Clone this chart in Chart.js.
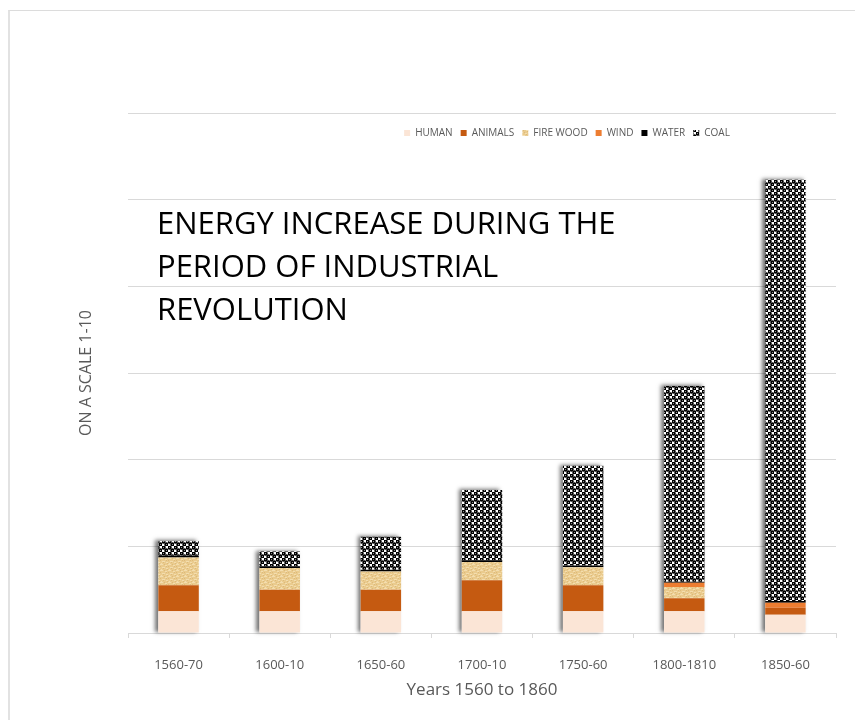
<!DOCTYPE html>
<html>
<head>
<meta charset="utf-8">
<script src="https://cdn.jsdelivr.net/npm/chart.js@4.4.1/dist/chart.umd.min.js"></script>
<style>
  body { margin: 0; background: #fff; }
  #moldura { position: absolute; left: 8px; top: 10px; width: 900px; height: 800px;
             border-top: 1px solid #dcdcdc; border-left: 2px solid #e2e2e2; }
  #grafico { position: absolute; left: 0; top: 0; }
</style>
</head>
<body>
<div id="moldura"></div>
<canvas id="grafico" width="855" height="720"></canvas>
<script>
/* ================= DADOS ================= */
const periodos = ['1560-70', '1600-10', '1650-60', '1700-10', '1750-60', '1800-1810', '1850-60'];
const human    = [0.25, 0.25, 0.25, 0.25, 0.25, 0.25, 0.21];
const animals  = [0.30, 0.25, 0.25, 0.36, 0.30, 0.15, 0.08];
const firewood = [0.32, 0.25, 0.21, 0.21, 0.21, 0.13, 0];
const wind     = [0, 0, 0, 0, 0, 0.05, 0.06];
const water    = [0.02, 0.02, 0.02, 0.02, 0.02, 0.01, 0.02];
const coal     = [0.17, 0.17, 0.38, 0.81, 1.15, 2.26, 4.86];
const escalaMax = 6;

const tituloLinhas = ['ENERGY INCREASE DURING THE', 'PERIOD OF INDUSTRIAL', 'REVOLUTION'];

/* ================= PADRÕES ================= */
function padraoCarvao() {
  const c = document.createElement('canvas');
  c.width = 6; c.height = 6;
  const g = c.getContext('2d');
  g.fillStyle = '#fff';
  g.fillRect(0, 0, 6, 6);
  g.fillStyle = '#000';
  [[1.5, 1.5], [4.5, 4.5]].forEach(([x, y]) => {
    g.beginPath();
    g.arc(x, y, 2.2, 0, Math.PI * 2);
    g.fill();
  });
  g.fillStyle = 'rgba(255,255,255,0.55)';
  g.fillRect(1, 1, 1, 1);
  g.fillRect(4, 4, 1, 1);
  return g.createPattern(c, 'repeat');
}

function padraoLenha() {
  const c = document.createElement('canvas');
  c.width = 8; c.height = 6;
  const g = c.getContext('2d');
  g.fillStyle = '#EACB8E';
  g.fillRect(0, 0, 8, 6);
  g.fillStyle = '#F3DDAE';
  [[0, 0, 3], [5, 1, 2], [2, 3, 3], [6, 4, 2], [1, 5, 1]].forEach(([x, y, w]) => g.fillRect(x, y, w, 1));
  g.fillStyle = '#DDBA7A';
  [[4, 0], [0, 2], [6, 2], [3, 4], [7, 5]].forEach(([x, y]) => g.fillRect(x, y, 1, 1));
  return g.createPattern(c, 'repeat');
}

/* ================= PLUGINS ================= */
// sombra atrás de cada barra empilhada
const sombra = {
  id: 'sombra',
  beforeDatasetsDraw(chart) {
    const ctx = chart.ctx;
    const n = chart.data.datasets.length;
    const base = chart.getDatasetMeta(0).data;
    const topo = chart.getDatasetMeta(n - 1).data;
    ctx.save();
    ctx.shadowColor = 'rgba(0,0,0,0.55)';
    ctx.shadowBlur = 4;
    ctx.shadowOffsetX = -3;
    ctx.shadowOffsetY = -1;
    ctx.fillStyle = '#fff';
    base.forEach((bar, i) => {
      const t = topo[i];
      ctx.fillRect(bar.x - bar.width / 2, t.y, bar.width, bar.base - t.y);
    });
    ctx.restore();
  }
};

// legenda no topo, mas sem ocupar espaço: desenhada dentro da área do gráfico
const moverLegenda = {
  id: 'moverLegenda',
  afterInit(chart) {
    const lg = chart.legend;
    const fitOrig = lg.fit.bind(lg);
    lg.fit = function () {
      fitOrig();
      this._altura = this.height;
      this.height = 0;
    };
  },
  afterLayout(chart) {
    const area = chart.chartArea;
    const lg = chart.legend;
    lg.left = area.left + 85;
    lg.right = area.right + 85;
    lg.width = lg.right - lg.left;
    lg.top = area.top + 7;
    lg.height = lg._altura;
    lg.bottom = lg.top + lg.height;
  }
};

// caixa de texto com o título
const titulo = {
  id: 'titulo',
  afterDraw(chart) {
    const ctx = chart.ctx;
    const area = chart.chartArea;
    ctx.save();
    ctx.font = '31px "Open Sans"';
    ctx.fillStyle = '#000';
    ctx.textBaseline = 'alphabetic';
    tituloLinhas.forEach((linha, i) => {
      ctx.fillText(linha, area.left + 29, area.top + 121 + i * 43);
    });
    ctx.restore();
  }
};

/* ================= GRÁFICO ================= */
const cinza = '#595959';

new Chart(document.getElementById('grafico'), {
  type: 'bar',
  data: {
    labels: periodos,
    datasets: [
      { label: 'HUMAN', data: human, backgroundColor: '#FBE5D6' },
      { label: 'ANIMALS', data: animals, backgroundColor: '#C55A11' },
      { label: 'FIRE WOOD', data: firewood, backgroundColor: padraoLenha() },
      { label: 'WIND', data: wind, backgroundColor: '#ED7D31' },
      { label: 'WATER', data: water, backgroundColor: '#000000' },
      { label: 'COAL', data: coal, backgroundColor: padraoCarvao() }
    ]
  },
  options: {
    responsive: false,
    animation: false,
    barPercentage: 0.4,
    categoryPercentage: 1,
    layout: { padding: { left: 0, right: 19, top: 113, bottom: 0 } },
    plugins: {
      legend: {
        position: 'top',
        labels: {
          boxWidth: 6,
          boxHeight: 6,
          padding: 8,
          color: cinza,
          font: { family: 'Open Sans', size: 10 }
        }
      },
      tooltip: { enabled: false }
    },
    scales: {
      x: {
        stacked: true,
        border: { color: '#d9d9d9' },
        grid: { drawOnChartArea: false, drawTicks: true, tickLength: 5, color: '#d9d9d9' },
        ticks: { color: cinza, padding: 19, font: { family: 'Open Sans', size: 13 } },
        title: {
          display: true,
          text: 'Years 1560 to 1860',
          color: cinza,
          font: { family: 'Open Sans', size: 17 },
          padding: { top: 0, bottom: 20 }
        },
        afterFit(scale) { scale.height = 87; }
      },
      y: {
        stacked: true,
        min: 0,
        max: escalaMax,
        border: { display: false },
        grid: { color: '#d9d9d9', drawTicks: false },
        ticks: { display: false, stepSize: 1 },
        title: {
          display: true,
          text: 'ON A SCALE 1-10',
          color: cinza,
          font: { family: 'Open Sans', size: 16 },
          padding: { top: 77, bottom: 0 }
        },
        afterFit(scale) { scale.width = 128; }
      }
    }
  },
  plugins: [sombra, moverLegenda, titulo]
});
</script>
</body>
</html>
